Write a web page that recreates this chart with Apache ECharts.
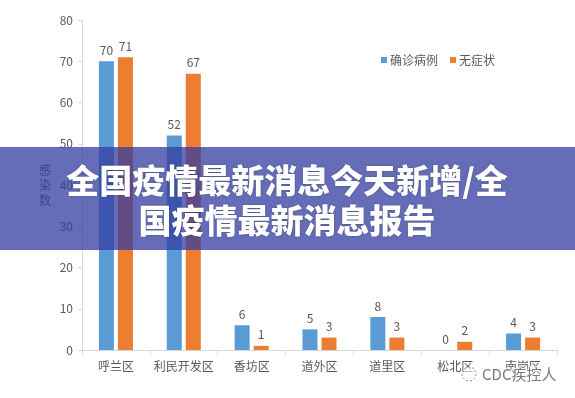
<!DOCTYPE html>
<html>
<head>
<meta charset="utf-8">
<script src="https://cdn.jsdelivr.net/npm/echarts@6/dist/echarts.min.js"></script>
<style>
  html, body { margin: 0; padding: 0; background: #fff; }
  #chart { width: 575px; height: 398px; }
</style>
</head>
<body>
<div id="chart"></div>
<script>
// 数据
const districts = ['呼兰区', '利民开发区', '香坊区', '道外区', '道里区', '松北区', '南岗区'];
const confirmed = [70, 52, 6, 5, 8, 0, 4];
const asymptomatic = [71, 67, 1, 3, 3, 2, 3];
const yTicks = [0, 10, 20, 30, 40, 50, 60, 70, 80];

const FONT = '"Noto Sans CJK SC", "Noto Sans", sans-serif';
const GREY = '#595959';

let chart = echarts.init(document.getElementById('chart'));

chart.setOption({
  animation: false,
  textStyle: { fontFamily: FONT },
  grid: { left: 82, right: 18, top: 20, bottom: 48 },
  legend: {
    top: 49,
    left: 376,
    itemWidth: 6,
    itemHeight: 6,
    itemGap: 12,
    icon: 'rect',
    textStyle: { color: GREY, fontSize: 12, fontFamily: FONT, padding: [0, 0, 0, -2] },
    data: ['确诊病例', '无症状']
  },
  xAxis: {
    type: 'category',
    data: districts,
    axisLine: { lineStyle: { color: '#d9d9d9' } },
    axisTick: { show: true, length: 5, lineStyle: { color: '#d9d9d9' } },
    axisLabel: { color: GREY, fontSize: 12, margin: 10, interval: 0, fontFamily: FONT }
  },
  yAxis: {
    type: 'value',
    min: yTicks[0],
    max: yTicks[yTicks.length - 1],
    interval: 10,
    name: '感\n染\n数',
    nameLocation: 'middle',
    nameRotate: 0,
    nameGap: 31,
    nameTextStyle: { color: GREY, fontSize: 12, lineHeight: 15, fontFamily: FONT },
    splitLine: { show: false },
    axisLine: { show: true, lineStyle: { color: '#d9d9d9' } },
    axisTick: { show: true, length: 4, lineStyle: { color: '#d9d9d9' } },
    axisLabel: { color: GREY, fontSize: 12, margin: 9, fontFamily: FONT }
  },
  series: [
    {
      name: '确诊病例',
      type: 'bar',
      data: confirmed,
      barWidth: 15,
      barGap: '27%',
      itemStyle: { color: '#5b9bd5' },
      label: { show: true, position: 'top', color: GREY, fontSize: 12, distance: 5 }
    },
    {
      name: '无症状',
      type: 'bar',
      data: asymptomatic,
      barWidth: 15,
      itemStyle: { color: '#ed7d31' },
      label: { show: true, position: 'top', color: GREY, fontSize: 12, distance: 5 }
    }
  ],
  graphic: [
    // 标题横幅
    {
      type: 'rect',
      z: 100,
      shape: { x: 0, y: 147, width: 575, height: 103 },
      style: { fill: 'rgba(50, 60, 160, 0.75)' }
    },
    {
      type: 'text',
      z: 101,
      x: 287,
      y: 180,
      style: {
        text: '全国疫情最新消息今天新增/全',
        fill: '#fff',
        font: '900 33px ' + FONT,
        align: 'center',
        verticalAlign: 'middle',
        textShadowColor: 'rgba(0,0,0,0.35)',
        textShadowBlur: 2
      }
    },
    {
      type: 'text',
      z: 101,
      x: 287,
      y: 220,
      style: {
        text: '国疫情最新消息报告',
        fill: '#fff',
        font: '900 33px ' + FONT,
        align: 'center',
        verticalAlign: 'middle',
        textShadowColor: 'rgba(0,0,0,0.35)',
        textShadowBlur: 2
      }
    },
    // 水印
    {
      type: 'circle',
      z: 102,
      shape: { cx: 469, cy: 374, r: 7 },
      style: { fill: 'rgba(255,255,255,0.6)', stroke: '#8a8a8a', lineWidth: 1, lineDash: [2, 2] }
    },
    {
      type: 'text',
      z: 102,
      x: 482,
      y: 374,
      style: {
        text: 'CDC疾控人',
        fill: '#7a7a7a',
        font: '15px ' + FONT,
        verticalAlign: 'middle',
        stroke: '#fff',
        lineWidth: 2
      }
    }
  ]
}, true);
</script>
</body>
</html>
